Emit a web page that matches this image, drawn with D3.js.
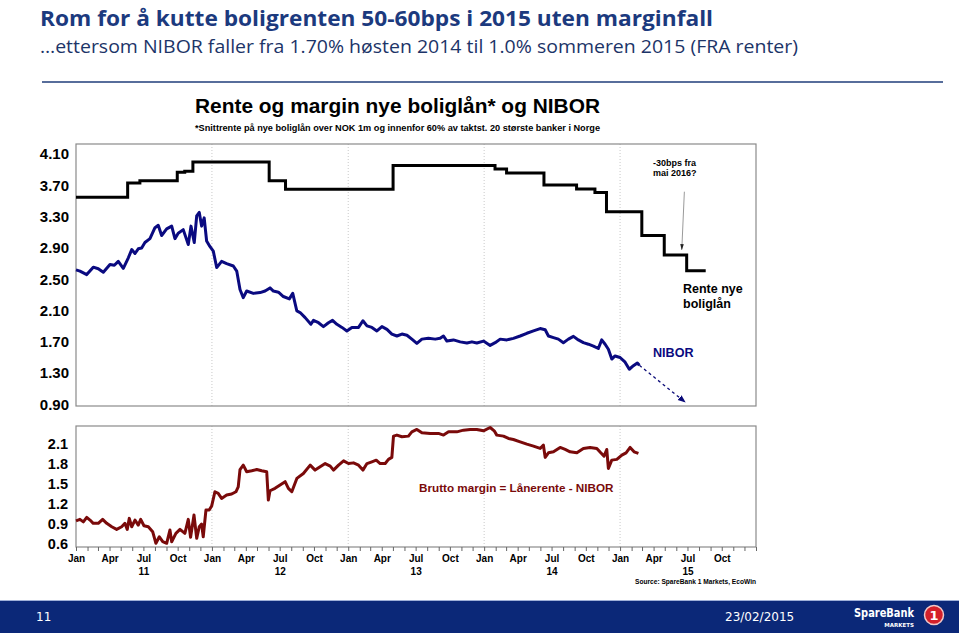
<!DOCTYPE html>
<html><head><meta charset="utf-8">
<script src="https://cdn.jsdelivr.net/npm/d3@7"></script>
<style>body{margin:0;background:#fff;} svg{display:block;}</style>
</head><body>
<svg id="c" width="959" height="635"></svg>
<script>
// ---------- DATA (dates as decimal years) ----------
const rateDates  = [2011.000, 2011.380, 2011.470, 2011.745, 2011.800, 2011.860, 2012.420, 2012.540, 2013.330, 2014.080, 2014.165, 2014.440, 2014.680, 2014.815, 2014.900, 2015.160, 2015.325, 2015.490, 2015.630];
const rateValues = [3.55, 3.73, 3.76, 3.87, 3.88, 4.00, 3.76, 3.65, 3.955, 3.91, 3.86, 3.705, 3.655, 3.61, 3.365, 3.06, 2.81, 2.61, 2.61];

const niborDates = [2011.000,2011.029,2011.079,2011.127,2011.164,2011.201,2011.250,2011.282,2011.311,2011.348,2011.385,2011.410,2011.434,2011.458,2011.483,2011.507,2011.544,2011.581,2011.605,2011.630,2011.667,2011.704,2011.728,2011.752,2011.789,2011.826,2011.846,2011.870,2011.888,2011.907,2011.924,2011.943,2011.961,2011.985,
2012.010,2012.035,2012.071,2012.108,2012.157,2012.182,2012.206,2012.230,2012.255,2012.304,2012.353,2012.390,2012.426,2012.451,2012.488,2012.524,2012.568,2012.593,2012.623,2012.647,2012.684,2012.726,2012.745,2012.782,2012.818,2012.855,2012.885,2012.917,2012.954,2012.990,
2013.027,2013.076,2013.108,2013.138,2013.174,2013.211,2013.248,2013.285,2013.321,2013.358,2013.395,2013.432,2013.468,2013.505,2013.542,2013.590,2013.640,2013.676,2013.701,2013.726,2013.774,2013.824,2013.873,2013.910,2013.946,2013.995,
2014.044,2014.081,2014.118,2014.167,2014.215,2014.265,2014.314,2014.363,2014.412,2014.449,2014.473,2014.510,2014.546,2014.583,2014.620,2014.657,2014.693,2014.730,2014.767,2014.804,2014.840,2014.865,2014.890,2014.914,2014.939,2014.963,
2015.000,2015.037,2015.068,2015.098,2015.127,2015.142];
const niborValues = [2.62,2.605,2.56,2.655,2.635,2.59,2.69,2.68,2.73,2.64,2.775,2.88,2.83,2.89,2.90,2.97,3.02,3.16,3.19,3.06,3.145,3.18,3.02,3.09,3.135,2.945,3.18,2.97,3.31,3.355,3.18,3.285,2.99,2.92,
2.86,2.65,2.73,2.70,2.67,2.605,2.37,2.265,2.35,2.32,2.33,2.35,2.39,2.35,2.335,2.28,2.25,2.32,2.095,2.075,2.01,1.925,1.975,1.945,1.895,1.945,1.975,1.925,1.885,1.84,
1.885,1.885,1.97,1.905,1.885,1.84,1.895,1.86,1.80,1.775,1.80,1.785,1.735,1.68,1.735,1.745,1.735,1.745,1.775,1.71,1.725,1.70,1.685,1.70,1.685,1.71,
1.655,1.69,1.735,1.725,1.745,1.775,1.81,1.84,1.87,1.855,1.775,1.755,1.735,1.69,1.735,1.77,1.725,1.69,1.67,1.645,1.615,1.725,1.67,1.605,1.48,1.52,
1.50,1.44,1.35,1.395,1.43,1.40];

const niborProjDates  = [2015.142, 2015.478];
const niborProjValues = [1.40, 0.93];

const marginDates = [2011.000,2011.029,2011.054,2011.079,2011.103,2011.127,2011.164,2011.196,2011.226,2011.263,2011.299,2011.336,2011.360,2011.377,2011.392,2011.410,2011.434,2011.458,2011.476,2011.500,2011.532,2011.564,2011.588,2011.613,2011.638,2011.667,2011.691,2011.704,2011.735,2011.765,2011.801,2011.826,2011.843,2011.868,2011.888,2011.907,2011.924,2011.936,2011.956,2011.980,2011.998,
2012.022,2012.046,2012.071,2012.108,2012.145,2012.176,2012.193,2012.206,2012.230,2012.255,2012.292,2012.329,2012.365,2012.402,2012.414,2012.426,2012.463,2012.500,2012.537,2012.561,2012.586,2012.623,2012.671,2012.721,2012.757,2012.794,2012.831,2012.868,2012.892,2012.929,2012.966,
2013.002,2013.039,2013.076,2013.108,2013.138,2013.174,2013.206,2013.235,2013.272,2013.296,2013.321,2013.333,2013.358,2013.395,2013.443,2013.468,2013.505,2013.542,2013.603,2013.664,2013.701,2013.738,2013.799,2013.848,2013.897,2013.946,2013.995,
2014.044,2014.074,2014.093,2014.142,2014.179,2014.215,2014.265,2014.314,2014.363,2014.412,2014.436,2014.449,2014.473,2014.510,2014.559,2014.596,2014.632,2014.682,2014.730,2014.779,2014.829,2014.858,2014.882,2014.902,2014.914,2014.939,2014.976,
2015.013,2015.044,2015.074,2015.103,2015.135];
const marginValues = [0.945,0.967,0.93,0.997,0.957,0.908,0.908,0.967,0.908,0.857,0.818,0.857,0.908,0.818,0.982,0.857,0.957,0.882,0.967,0.872,0.857,0.783,0.61,0.708,0.634,0.61,0.808,0.634,0.759,0.818,0.759,0.967,0.699,1.032,0.684,0.857,0.897,0.708,1.106,1.106,1.166,
1.379,1.355,1.28,1.33,1.345,1.379,1.453,1.71,1.776,1.677,1.692,1.71,1.692,1.677,1.255,1.394,1.43,1.48,1.53,1.43,1.379,1.578,1.652,1.776,1.702,1.751,1.80,1.762,1.702,1.776,1.84,
1.80,1.81,1.776,1.702,1.80,1.826,1.85,1.80,1.80,1.862,1.892,2.209,2.224,2.199,2.209,2.273,2.309,2.258,2.249,2.249,2.224,2.273,2.273,2.298,2.309,2.309,2.288,
2.338,2.288,2.224,2.209,2.174,2.159,2.124,2.089,2.06,2.025,2.074,1.892,1.96,1.975,2.04,2.01,1.975,1.96,2.025,2.04,2.025,1.96,1.911,2.01,1.727,1.851,1.862,
1.926,1.96,2.04,1.975,1.951];

const topTicks    = [4.10, 3.70, 3.30, 2.90, 2.50, 2.10, 1.70, 1.30, 0.90];
const bottomTicks = [2.1, 1.8, 1.5, 1.2, 0.9, 0.6];
const gridYears   = [2012, 2013, 2014, 2015];
const labelYears  = [2011, 2012, 2013, 2014, 2015];
const noteArrowDates  = [2015.473, 2015.454];
const noteArrowValues = [3.62, 2.88];

// ---------- helpers ----------
function toDate(y){ const yr=Math.floor(y); const s=new Date(yr,0,1), e=new Date(yr+1,0,1); return new Date(+s + (y-yr)*(e-s)); }
const zip = (ds, vs) => ds.map((d,i)=>({date:toDate(d), v:vs[i]}));

const svg = d3.select("#c");
const L=76, R=756;
const x = d3.scaleTime().domain([new Date(2011,0,1), new Date(2016,0,1)]).range([L, R]);
const yTop = d3.scaleLinear().domain([0.88, 4.23]).range([406, 144]);
const yBot = d3.scaleLinear().domain([0.555, 2.36]).range([547, 426]);

const ARIAL = "'Liberation Sans', Arial, sans-serif";

// ---------- header ----------
svg.append("text").attr("x",40).attr("y",26).attr("textLength",673).attr("lengthAdjust","spacingAndGlyphs")
  .style("font-family","'Open Sans', sans-serif").style("font-weight","700").style("font-size","22px").attr("fill","#1c3a7e")
  .text("Rom for å kutte boligrenten 50-60bps i 2015 uten marginfall");
svg.append("text").attr("x",40).attr("y",53).attr("textLength",758).attr("lengthAdjust","spacingAndGlyphs")
  .style("font-family","'Open Sans', sans-serif").style("font-size","18px").attr("fill","#1c3468")
  .text("…ettersom NIBOR faller fra 1.70% høsten 2014 til 1.0% sommeren 2015 (FRA renter)");
svg.append("line").attr("x1",42).attr("x2",943).attr("y1",82).attr("y2",82).attr("stroke","#1f3c7a").attr("stroke-width",1.5);

svg.append("text").attr("x",195).attr("y",113).attr("textLength",405).attr("lengthAdjust","spacingAndGlyphs")
  .style("font-family",ARIAL).style("font-weight","700").style("font-size","20px").attr("fill","#000")
  .text("Rente og margin nye boliglån* og NIBOR");
svg.append("text").attr("x",195).attr("y",131).attr("textLength",405).attr("lengthAdjust","spacingAndGlyphs")
  .style("font-family",ARIAL).style("font-weight","700").style("font-size","9px").attr("fill","#000")
  .text("*Snittrente på nye boliglån over NOK 1m og innenfor 60% av taktst. 20 største banker i Norge");

// ---------- grid & frames ----------
function grid(y0,y1){
  svg.append("g").selectAll("line").data(gridYears).join("line")
    .attr("x1",d=>x(new Date(d,0,1))).attr("x2",d=>x(new Date(d,0,1)))
    .attr("y1",y0).attr("y2",y1).attr("stroke","#c9c9c9").attr("stroke-width",1).attr("stroke-dasharray","1,2");
}
grid(144,406); grid(426,547);
svg.append("rect").attr("x",L).attr("y",144).attr("width",R-L).attr("height",262).attr("fill","none").attr("stroke","#8a8a8a").attr("stroke-width",1.2);
svg.append("rect").attr("x",L).attr("y",426).attr("width",R-L).attr("height",121).attr("fill","none").attr("stroke","#8a8a8a").attr("stroke-width",1.2);

// ---------- axes ----------
const gyT = svg.append("g").attr("transform",`translate(${L},0)`)
  .call(d3.axisLeft(yTop).tickValues(topTicks).tickFormat(d3.format(".2f")).tickSize(0).tickPadding(7));
gyT.select(".domain").remove();
gyT.selectAll("text").style("font-family",ARIAL).style("font-weight","700").style("font-size","15px").attr("fill","#000");

const gyB = svg.append("g").attr("transform",`translate(${L},0)`)
  .call(d3.axisLeft(yBot).tickValues(bottomTicks).tickFormat(d3.format(".1f")).tickSize(0).tickPadding(8));
gyB.select(".domain").remove();
gyB.selectAll("text").style("font-family",ARIAL).style("font-weight","700").style("font-size","14.5px").attr("fill","#000");

const gxT = svg.append("g").attr("transform","translate(0,547)")
  .call(d3.axisBottom(x).ticks(d3.timeMonth.every(1)).tickSize(4).tickFormat(""));
gxT.select(".domain").remove();
gxT.selectAll("line").attr("stroke","#666");

const quarterMonths = d3.timeMonth.every(3).range(new Date(2011,0,1), new Date(2016,0,1));
const gxL = svg.append("g").attr("transform","translate(0,547)")
  .call(d3.axisBottom(x).tickValues(quarterMonths).tickFormat(d3.timeFormat("%b")).tickSize(0).tickPadding(8));
gxL.select(".domain").remove();
gxL.selectAll("text").style("font-family",ARIAL).style("font-weight","700").style("font-size","10px").attr("fill","#000");

const gxY = svg.append("g").attr("transform","translate(0,547)")
  .call(d3.axisBottom(x).tickValues(labelYears.map(y=>new Date(y,6,1))).tickFormat(d3.timeFormat("%y")).tickSize(0).tickPadding(21));
gxY.select(".domain").remove();
gxY.selectAll("text").style("font-family",ARIAL).style("font-weight","700").style("font-size","10px").attr("fill","#000");

// ---------- markers ----------
const defs = svg.append("defs");
defs.append("marker").attr("id","ahNavy").attr("viewBox","0 0 10 10").attr("refX",9).attr("refY",5)
  .attr("markerWidth",6).attr("markerHeight",6).attr("orient","auto")
  .append("path").attr("d","M0,1 L10,5 L0,9 z").attr("fill","#0a0a78");
defs.append("marker").attr("id","ahBlack").attr("viewBox","0 0 10 10").attr("refX",9).attr("refY",5)
  .attr("markerWidth",6).attr("markerHeight",6).attr("orient","auto")
  .append("path").attr("d","M0,2 L10,5 L0,8 z").attr("fill","#222");

// ---------- lines ----------
const lineTopStep = d3.line().x(d=>x(d.date)).y(d=>yTop(d.v)).curve(d3.curveStepAfter);
const lineTop = d3.line().x(d=>x(d.date)).y(d=>yTop(d.v));
const lineBot = d3.line().x(d=>x(d.date)).y(d=>yBot(d.v));

svg.append("path").datum(zip(rateDates,rateValues)).attr("d",lineTopStep)
  .attr("fill","none").attr("stroke","#000").attr("stroke-width",3);
svg.append("path").datum(zip(niborDates,niborValues)).attr("d",lineTop)
  .attr("fill","none").attr("stroke","#0a0a80").attr("stroke-width",3).attr("stroke-linejoin","round");
svg.append("path").datum(zip(niborProjDates,niborProjValues)).attr("d",lineTop)
  .attr("fill","none").attr("stroke","#0a0a78").attr("stroke-width",1.3).attr("stroke-dasharray","3,3").attr("marker-end","url(#ahNavy)");
svg.append("path").datum(zip(marginDates,marginValues)).attr("d",lineBot)
  .attr("fill","none").attr("stroke","#7a0a0a").attr("stroke-width",3).attr("stroke-linejoin","round");

svg.append("path").datum(zip(noteArrowDates,noteArrowValues)).attr("d",lineTop)
  .attr("fill","none").attr("stroke","#9a9a9a").attr("stroke-width",1).attr("marker-end","url(#ahBlack)");

// ---------- annotations ----------
function txt(xp,yp,s,size,color,extra){
  const t=svg.append("text").attr("x",xp).attr("y",yp).style("font-family",ARIAL).style("font-weight","700")
    .style("font-size",size+"px").attr("fill",color).text(s);
  if(extra) extra(t);
  return t;
}
txt(653,166,"-30bps fra",9,"#000");
txt(653,176,"mai 2016?",9,"#000");
txt(683,293,"Rente nye",12.5,"#000");
txt(683,308,"boliglån",12.5,"#000");
txt(653,357,"NIBOR",12.6,"#0a0a80");
txt(419,492,"Brutto margin = Lånerente - NIBOR",11.7,"#7a0a0a");
txt(635,584,"Source: SpareBank 1 Markets, EcoWin",7.5,"#000",t=>t.attr("textLength",121).attr("lengthAdjust","spacingAndGlyphs"));

// ---------- footer ----------
svg.append("rect").attr("x",0).attr("y",600).attr("width",959).attr("height",33).attr("fill","#0b2878");
svg.append("line").attr("x1",0).attr("x2",959).attr("y1",600.5).attr("y2",600.5).attr("stroke","#9fb0d8").attr("stroke-width",1);
svg.append("text").attr("x",36).attr("y",621).style("font-family","'DejaVu Sans', Verdana, sans-serif").style("font-size","12px").attr("fill","#fff").text("11");
svg.append("text").attr("x",725).attr("y",621).style("font-family","'DejaVu Sans', Verdana, sans-serif").style("font-size","12px").attr("fill","#fff").text("23/02/2015");
svg.append("text").attr("x",854).attr("y",617).attr("textLength",60).attr("lengthAdjust","spacingAndGlyphs")
  .style("font-family","'DejaVu Sans', Verdana, sans-serif").style("font-weight","700").style("font-size","12px").attr("fill","#fff").text("SpareBank");
svg.append("text").attr("x",914).attr("y",627).attr("text-anchor","end")
  .style("font-family","'DejaVu Sans', Verdana, sans-serif").style("font-weight","700").style("font-size","5.5px").attr("fill","#fff").text("MARKETS");
svg.append("circle").attr("cx",934).attr("cy",615).attr("r",9.5).attr("fill","#d4202a").attr("stroke","#f2c8c8").attr("stroke-width",1.5);
svg.append("text").attr("x",934).attr("y",620).attr("text-anchor","middle")
  .style("font-family","'DejaVu Sans', sans-serif").style("font-weight","700").style("font-size","13px").attr("fill","#fff").text("1");
</script>
</body></html>
